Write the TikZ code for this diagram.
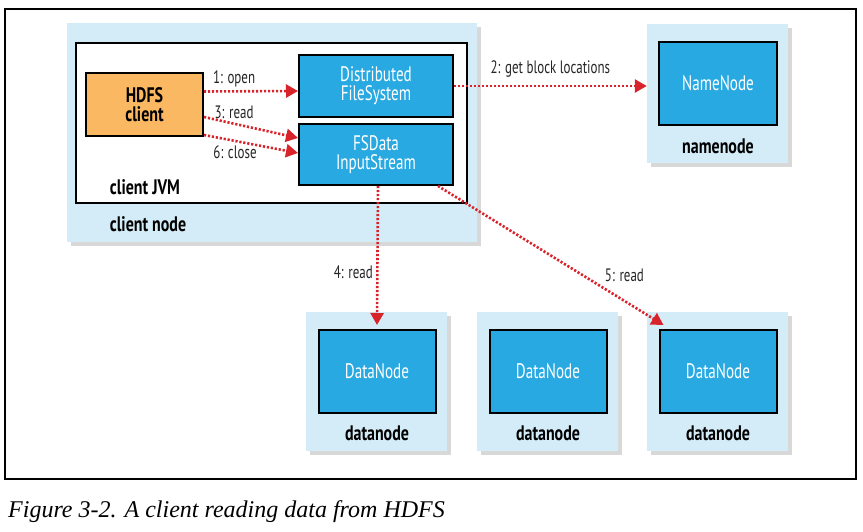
\documentclass[tikz,border=0pt]{standalone}
\usepackage{fontspec}
\usetikzlibrary{arrows.meta,shadows}
\newfontfamily\myriad{PT Sans}[FakeStretch=0.72]
\newfontfamily\myriadbold{PT Sans}[FakeStretch=0.76]
\newfontfamily\capfont{Liberation Serif}
\definecolor{hostblue}{HTML}{D4ECF7}
\definecolor{procblue}{HTML}{29A9E1}
\definecolor{clientorange}{HTML}{FBB862}
\definecolor{flowred}{HTML}{D9232A}

\begin{document}
\begin{tikzpicture}[x=1pt,y=-1pt,
    host/.style={fill=hostblue,draw=none,drop shadow={shadow xshift=4pt,shadow yshift=-4pt,fill=black!30}},
    proc/.style={draw,line width=2pt,fill=procblue,text=white,font=\myriad\fontsize{21}{22}\selectfont,align=center,inner sep=0pt},
    hostlabel/.style={font=\myriadbold\bfseries\fontsize{21}{22}\selectfont},
    flow/.style={flowred,line width=2.6pt,dash pattern=on 2.2pt off 1.8pt},
    steplabel/.style={black!85,font=\myriad\fontsize{18}{20}\selectfont},
]
\useasboundingbox (0,0) rectangle (863,532);
\draw[line width=1.4pt] (5,9) rectangle (856,479);

% client node
\node (clienthost) at (272,132.5) [host,minimum width=410pt,minimum height=219pt] {};
\node (jvm) at (271.5,123) [draw,line width=2pt,fill=white,minimum width=391pt,minimum height=160pt] {};
\node (hdfs) at (144.5,104.5) [draw,line width=2pt,fill=clientorange,minimum width=117pt,minimum height=63pt,align=center,hostlabel] {HDFS\\[-3pt]client};
\node (dfs) at (376,86) [proc,minimum width=154pt,minimum height=62pt] {Distributed\\[-3pt]FileSystem};
\node (fsdata) at (376,154.5) [proc,minimum width=154pt,minimum height=61pt] {FSData\\[-3pt]InputStream};
\node (jvmlabel) at (145,187) [hostlabel] {client JVM};
\node (clientlabel) at (148,224) [hostlabel] {client node};

% namenode
\node (namehost) at (717.5,93.5) [host,minimum width=141pt,minimum height=139pt] {};
\node (nn) at (718,83.5) [proc,minimum width=118pt,minimum height=83pt] {NameNode};
\node (namelabel) at (718,146) [hostlabel] {namenode};

% datanodes
\node (datahost1) at (376.5,381.5) [host,minimum width=141pt,minimum height=139pt] {};
\node (datahost2) at (547.5,381.5) [host,minimum width=141pt,minimum height=139pt] {};
\node (datahost3) at (717.5,381.5) [host,minimum width=141pt,minimum height=139pt] {};
\node (dn1) at (377,371.5) [proc,minimum width=117pt,minimum height=83pt] {DataNode};
\node (dn2) at (548,371.5) [proc,minimum width=117pt,minimum height=83pt] {DataNode};
\node (dn3) at (718,371.5) [proc,minimum width=117pt,minimum height=83pt] {DataNode};
\node (datalabel1) at (377,433) [hostlabel] {datanode};
\node (datalabel2) at (548,433) [hostlabel] {datanode};
\node (datalabel3) at (718,433) [hostlabel] {datanode};

\draw[->,>={Triangle[length=12pt,width=13pt]},flow] ([yshift=13pt]hdfs.east) to node[pos=0.32,above,steplabel]{1: open} ([yshift=-5pt]dfs.west);
\draw[->,>={Triangle[length=12pt,width=13pt]},flow] ([yshift=-12.5pt]hdfs.east) to node[pos=0.32,above,steplabel]{3: read} ([yshift=16.5pt]fsdata.west);
\draw[->,>={Triangle[length=12pt,width=13pt]},flow] ([yshift=-30.5pt]hdfs.east) to node[pos=0.33,below,steplabel]{6: close} ([yshift=1.5pt]fsdata.west);
\draw[->,>={Triangle[length=12pt,width=13pt]},flow] (dfs.east) to node[midway,above=4pt,steplabel]{2: get block locations} ([yshift=7.5pt]namehost.west);
\draw[->,>={Triangle[length=12pt,width=13pt]},flow] ([xshift=2pt]fsdata.south) to node[pos=0.62,left,steplabel]{4: read} ([yshift=4pt]dn1.north);
\draw[->,>={Triangle[length=12pt,width=13pt]},flow] ([xshift=-16pt]fsdata.south east) to node[pos=0.72,above right,steplabel]{5: read} ([xshift=5pt,yshift=4pt]dn3.north west);

\node (caption) at (8,517) [anchor=base west,inner sep=0pt,font=\capfont\itshape\fontsize{24}{26}\selectfont] {Figure 3-2. A client reading data from HDFS};
\end{tikzpicture}
\end{document}
